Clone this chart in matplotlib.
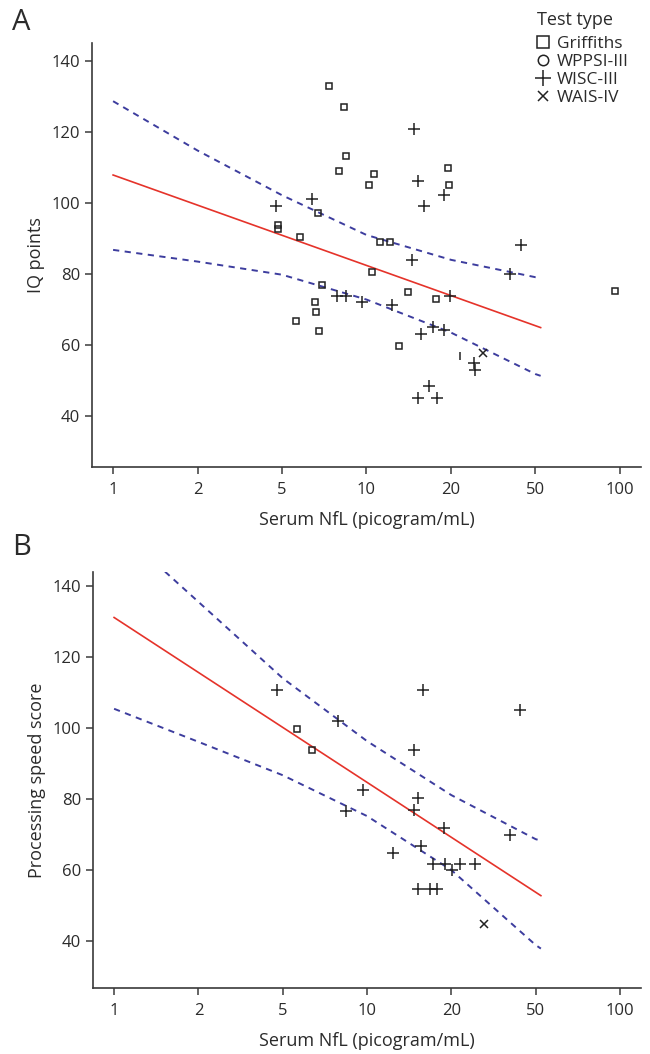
import matplotlib
matplotlib.use("Agg")
import matplotlib.pyplot as plt
import numpy as np
from matplotlib.lines import Line2D
from matplotlib.ticker import NullLocator

plt.rcParams["font.family"] = ["Open Sans", "DejaVu Sans"]

# x axis: labelled ticks are evenly spaced, log-interpolated in between
TICK_VALUES = [1, 2, 5, 10, 20, 50, 100]
Y_TICKS = [40, 60, 80, 100, 120, 140]

# ---- Panel A: IQ points ----
griff_nfl_a = [7.37, 8.30, 8.47, 7.98, 10.66, 10.23, 19.56, 19.72, 6.70, 4.80, 4.80, 5.78,
               11.17, 12.16, 10.49, 6.96, 14.05, 17.68, 6.56, 6.63, 5.62, 6.79, 13.09, 96.0]
griff_iq_a = [133.0, 127.0, 113.2, 109.1, 108.3, 105.2, 109.9, 105.2, 97.1, 93.8, 92.7, 90.3,
              89.0, 89.0, 80.6, 76.9, 74.9, 73.0, 72.0, 69.3, 66.8, 64.0, 59.8, 75.2]
wisc_nfl_a = [14.73, 15.25, 18.93, 6.38, 4.69, 15.99, 42.6, 14.52, 37.9, 19.79, 7.87,
              8.42, 9.61, 12.36, 17.21, 18.93, 15.6, 25.67, 26.1, 16.74, 15.29, 17.78]
wisc_iq_a = [121.0, 106.2, 102.2, 101.0, 99.1, 99.1, 88.1, 84.0, 79.9, 73.9, 73.9,
             73.9, 72.0, 71.4, 65.2, 64.1, 63.0, 55.0, 53.0, 48.4, 45.1, 45.1]
wais_nfl_a = [28.2]
wais_iq_a = [57.8]
bar_nfl_a = [22.1]   # marker printed as a short vertical stroke
bar_iq_a = [57.0]

fit_nfl_a = [1.0, 52.2]
fit_iq_a = [107.9, 64.9]
ci_nfl_a = [1.0, 2.0, 5.0, 10.0, 20.0, 50.0, 52.2]
ci_upper_a = [128.7, 114.8, 102.2, 91.0, 84.0, 79.1, 79.0]
ci_lower_a = [86.8, 83.5, 79.8, 72.8, 63.5, 51.8, 51.3]

# ---- Panel B: processing speed ----
griff_nfl_b = [5.62, 6.38]
griff_ps_b = [99.7, 93.9]
wisc_nfl_b = [4.69, 15.9, 42.4, 7.90, 14.68, 9.70, 15.25, 14.68, 8.40, 18.77, 37.8,
              15.6, 12.43, 17.26, 19.04, 22.06, 25.84, 20.15, 15.25, 16.84, 17.78]
wisc_ps_b = [110.8, 110.8, 105.1, 102.1, 93.9, 82.4, 80.2, 76.8, 76.6, 71.9, 69.9,
             66.7, 64.9, 61.7, 61.7, 61.7, 61.7, 60.0, 54.6, 54.6, 54.6]
wais_nfl_b = [28.4]
wais_ps_b = [44.8]

fit_nfl_b = [1.0, 52.2]
fit_ps_b = [131.1, 52.8]
ci_up_nfl_b = [1.52, 2.0, 5.0, 10.0, 20.0, 50.0, 52.2]
ci_upper_b = [144.0, 135.5, 114.0, 96.3, 81.1, 68.7, 68.3]
ci_lo_nfl_b = [1.0, 2.0, 5.0, 10.0, 20.0, 50.0, 52.2]
ci_lower_b = [105.4, 96.1, 86.7, 75.2, 60.0, 38.9, 37.9]

LOGT = np.log10(TICK_VALUES)
IDX = np.arange(len(TICK_VALUES), dtype=float)


def fwd(x):
    l = np.log10(np.clip(np.asarray(x, dtype=float), 1e-9, None))
    i = np.interp(l, LOGT, IDX)
    i = np.where(l < LOGT[0], (l - LOGT[0]) / (LOGT[1] - LOGT[0]), i)
    i = np.where(l > LOGT[-1], IDX[-1] + (l - LOGT[-1]) / (LOGT[-1] - LOGT[-2]), i)
    return i


def inv(i):
    i = np.asarray(i, dtype=float)
    l = np.interp(i, IDX, LOGT)
    l = np.where(i < 0, LOGT[0] + i * (LOGT[1] - LOGT[0]), l)
    l = np.where(i > IDX[-1], LOGT[-1] + (i - IDX[-1]) * (LOGT[-1] - LOGT[-2]), l)
    return 10 ** l


TEXT = "#2b2b2b"
SPINE = "#3a3a3a"
RED = "#e5332a"
BLUE = "#3d3d9e"
MK = dict(ls="none", color="#222222", mfc="none", mew=1.1)


def style_axes(ax, ylabel, ylim):
    ax.set_xscale("function", functions=(fwd, inv))
    ax.set_xlim(inv(-0.25), inv(6.25))
    ax.set_ylim(*ylim)
    ax.set_xticks(TICK_VALUES)
    ax.set_xticklabels([str(v) for v in TICK_VALUES])
    ax.xaxis.set_minor_locator(NullLocator())
    ax.set_yticks(Y_TICKS)
    for s in ("top", "right"):
        ax.spines[s].set_visible(False)
    for s in ("left", "bottom"):
        ax.spines[s].set_color(SPINE)
        ax.spines[s].set_linewidth(1.2)
    ax.tick_params(axis="both", colors=SPINE, labelcolor=TEXT, labelsize=12,
                   length=5, width=1.1)
    ax.tick_params(axis="x", pad=6)
    ax.set_xlabel("Serum NfL (picogram/mL)", fontsize=13, color=TEXT, labelpad=9)
    ax.set_ylabel(ylabel, fontsize=13, color=TEXT, labelpad=5)


def draw_fit(ax, fx, fy, ux, uy, lx, ly):
    ax.plot(fx, fy, color=RED, lw=1.2)
    ax.plot(ux, uy, color=BLUE, lw=1.4, ls=(0, (3.2, 2.8)))
    ax.plot(lx, ly, color=BLUE, lw=1.4, ls=(0, (3.2, 2.8)))


fig = plt.figure(figsize=(6.5, 10.54), dpi=100)
ax_a = fig.add_axes([0.1415, 0.5569, 0.8446, 0.4023])
ax_b = fig.add_axes([0.1431, 0.0626, 0.8431, 0.3947])

# Panel A
draw_fit(ax_a, fit_nfl_a, fit_iq_a, ci_nfl_a, ci_upper_a, ci_nfl_a, ci_lower_a)
ax_a.plot(griff_nfl_a, griff_iq_a, marker="s", ms=5, **MK)
ax_a.plot(wisc_nfl_a, wisc_iq_a, marker="+", ms=8, **MK)
ax_a.plot(wais_nfl_a, wais_iq_a, marker="x", ms=5.5, **MK)
ax_a.plot(bar_nfl_a, bar_iq_a, marker="|", ms=6, **MK)
style_axes(ax_a, "IQ points", (25.6, 145.1))

# Panel B
draw_fit(ax_b, fit_nfl_b, fit_ps_b, ci_up_nfl_b, ci_upper_b, ci_lo_nfl_b, ci_lower_b)
ax_b.plot(griff_nfl_b, griff_ps_b, marker="s", ms=5, **MK)
ax_b.plot(wisc_nfl_b, wisc_ps_b, marker="+", ms=8, **MK)
ax_b.plot(wais_nfl_b, wais_ps_b, marker="x", ms=5.5, **MK)
style_axes(ax_b, "Processing speed score", (26.8, 143.9))

fig.text(0.018, 0.992, "A", fontsize=21, color=TEXT, va="top", ha="left")
fig.text(0.018, 0.494, "B", fontsize=21, color=TEXT, va="top", ha="left")

# legend: title drawn separately to get the larger gap under it
fig.text(537 / 650, 1 - 20 / 1054, "Test type", fontsize=13, color=TEXT,
         ha="left", va="center")
handles = [
    Line2D([], [], marker="s", ms=8.5, **MK),
    Line2D([], [], marker="o", ms=7.5, **MK),
    Line2D([], [], marker="+", ms=11, **MK),
    Line2D([], [], marker="x", ms=7.5, **MK),
]
labels = ["Griffiths", "WPPSI-III", "WISC-III", "WAIS-IV"]
leg = fig.legend(handles, labels, loc="upper left",
                 bbox_to_anchor=(534 / 650, 1 - 36 / 1054), frameon=False, fontsize=12.5,
                 handlelength=1.0, handletextpad=0.3, labelspacing=0.1,
                 borderpad=0, borderaxespad=0)
for t in leg.get_texts():
    t.set_color(TEXT)

fig.savefig("out.png", dpi=100)
